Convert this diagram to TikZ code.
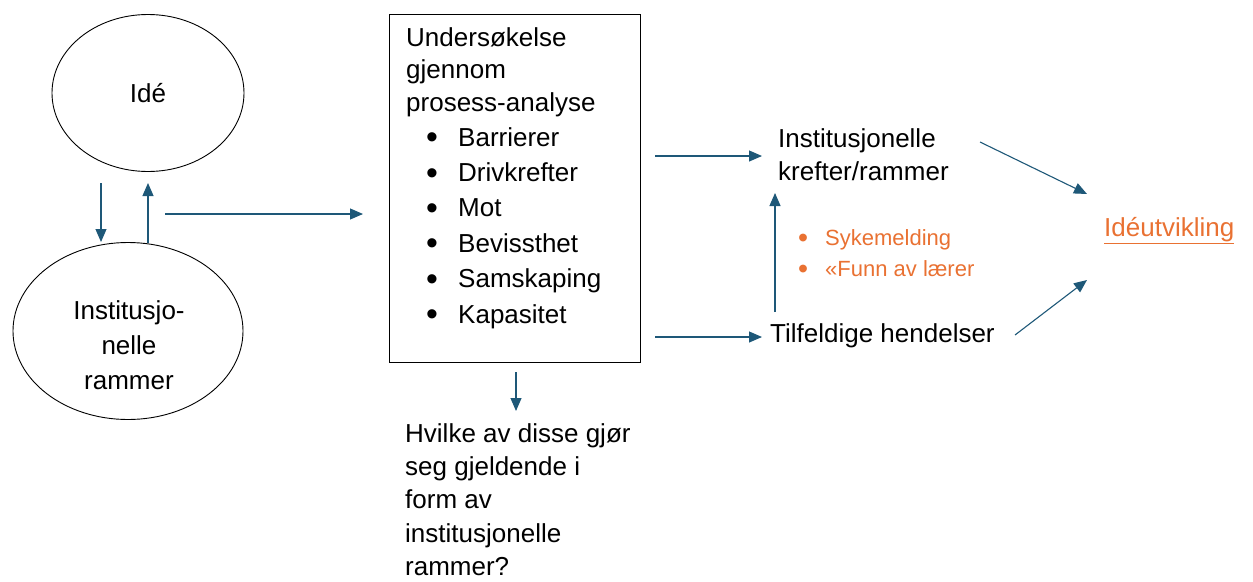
\documentclass[tikz,border=0pt]{standalone}
\usepackage{fontspec}
\usepackage{graphicx}
\setmainfont{Liberation Sans}
\usetikzlibrary{arrows.meta,shapes.geometric}
\definecolor{arrowblue}{RGB}{30,88,120}
\definecolor{accentorange}{RGB}{233,113,50}
\tikzset{
  flow/.style={draw=arrowblue, line width=1.1pt, -{Triangle[length=13pt,width=11pt]}},
  bubble/.style={draw=black, line width=0.9pt, ellipse, inner sep=0pt},
  txt/.style={anchor=north west, align=left, inner sep=0pt, font=\fontsize{26}{34}\selectfont},
  ctxt/.style={align=center, inner sep=0pt, font=\fontsize{26}{35}\selectfont},
  note/.style={anchor=north west, align=left, inner sep=0pt, text=accentorange, font=\fontsize{22}{31}\selectfont},
}
% list bullet, slightly enlarged, in a box of given width
\newcommand{\blt}[1]{\makebox[#1][l]{\raisebox{-0.1em}{\scalebox{1.3}{\textbullet}}}}
\begin{document}
\begin{tikzpicture}[x=1pt,y=-1pt]
\useasboundingbox (0,0) rectangle (1253,581);

% left column: idea and institutional frames
\node[bubble, minimum width=192pt, minimum height=157pt] (ide) at (148,93) {};
\node[ctxt] (idetekst) at (ide.center) {Idé};
\node[bubble, minimum width=230pt, minimum height=177pt] (ramme) at (128,331) {};
\node[ctxt] (rammetekst) at (129,345) {Institusjo-\\nelle\\rammer};
\coordinate (d1) at (101,183); \coordinate (d2) at (101,242);
\coordinate (u1) at (148,243); \coordinate (u2) at (148,183);
\draw[flow] (d1) -- (d2);
\draw[flow] (u1) -- (u2);

% process analysis box
\node[draw=black, line width=0.9pt, minimum width=251pt, minimum height=348pt, anchor=north west, inner sep=0pt] (boks) at (389,14) {};
\node[txt, font=\fontsize{26}{32.5}\selectfont] (tittel) at (406,27) {Undersøkelse\\gjennom\\prosess-analyse};
\node[txt, font=\fontsize{26}{35.4}\selectfont] (liste) at (426,127) {%
  \blt{32pt}Barrierer\\
  \blt{32pt}Drivkrefter\\
  \blt{32pt}Mot\\
  \blt{32pt}Bevissthet\\
  \blt{32pt}Samskaping\\
  \blt{32pt}Kapasitet};
\coordinate (inn1) at (165,214); \coordinate (inn2) at (363,214);
\draw[flow] (inn1) -- (inn2);

% question below the box
\coordinate (q1) at (516,372); \coordinate (q2) at (516,411);
\draw[flow] (q1) -- (q2);
\node[txt, font=\fontsize{26}{33.4}\selectfont] (sporsmal) at (405,423) {Hvilke av disse gjør\\seg gjeldende i\\form av\\institusjonelle\\rammer?};

% right column
\node[txt, font=\fontsize{26}{33}\selectfont] (krefter) at (778,128) {Institusjonelle\\krefter/rammer};
\node[txt] (tilfeldig) at (770,323) {Tilfeldige hendelser};
\coordinate (a1) at (655,156); \coordinate (a2) at (762,156);
\coordinate (b1) at (655,337); \coordinate (b2) at (762,337);
\draw[flow] (a1) -- (a2);
\draw[flow] (b1) -- (b2);
\coordinate (c1) at (775,312); \coordinate (c2) at (775,193);
\draw[flow] (c1) -- (c2);
\node[note] (eksempel) at (798,229) {%
  \blt{27pt}Sykemelding\\
  \blt{27pt}«Funn av lærer};

% outcome
\node[anchor=west, inner sep=0pt, text=accentorange, font=\fontsize{26}{30}\selectfont] (utvikling) at (1104,231) {\underline{Idéutvikling}};
\coordinate (e1) at (980,142); \coordinate (e2) at (1087,194);
\coordinate (f1) at (1015,335); \coordinate (f2) at (1087,280);
\draw[flow] (e1) -- (e2);
\draw[flow] (f1) -- (f2);
\end{tikzpicture}
\end{document}
